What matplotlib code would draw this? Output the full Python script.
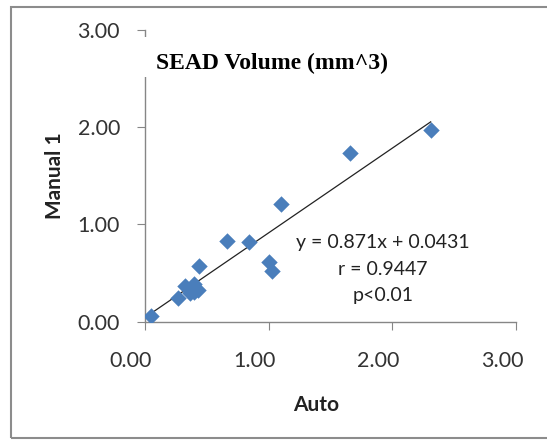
import matplotlib
matplotlib.use("Agg")
import matplotlib.pyplot as plt
import matplotlib.transforms as mtransforms
from matplotlib.patches import Rectangle
import numpy as np

# values
auto = [0.05, 0.27, 0.32, 0.36, 0.40, 0.40, 0.43, 0.44, 0.66, 0.84, 1.00, 1.03, 1.10, 1.66, 2.31]
manual1 = [0.06, 0.24, 0.37, 0.30, 0.39, 0.31, 0.33, 0.57, 0.83, 0.82, 0.61, 0.52, 1.21, 1.73, 1.97]
slope = 0.871
intercept = 0.0431
ticks = [0, 1, 2, 3]
tick_labels = ["0.00", "1.00", "2.00", "3.00"]
stats_text = "y = 0.871x + 0.0431\nr = 0.9447\np<0.01"

plt.rcParams['font.family'] = ['Lato', 'DejaVu Sans']

fig = plt.figure(figsize=(5.47, 4.40), dpi=100)
ax = fig.add_axes([145/547, 118.3/440, 371/547, 291.7/440])

ax.scatter(auto, manual1, marker="D", s=70, color="#4A7EBB", zorder=3, linewidths=0)
xs = np.array([0.0, max(auto)])
ax.plot(xs, slope*xs + intercept, color="#222222", lw=0.9, zorder=2)

ax.set_xlim(0, 3)
ax.set_ylim(0, 3)
ax.set_xticks(ticks)
ax.set_xticklabels(tick_labels)
ax.set_yticks(ticks)
ax.set_yticklabels(tick_labels)
ax.tick_params(axis="both", direction="out", length=6, color="#868686",
               labelsize=15.5, labelcolor="#333333")
ax.tick_params(axis="y", pad=12)
ax.tick_params(axis="x", pad=15)
for lab in ax.get_xticklabels():
    lab.set_transform(lab.get_transform() + mtransforms.ScaledTranslation(-14/100, 0, fig.dpi_scale_trans))
for s in ["top", "right"]:
    ax.spines[s].set_visible(False)
for s in ["left", "bottom"]:
    ax.spines[s].set_color("#868686")
    ax.spines[s].set_linewidth(1.0)

ax.set_xlabel("Auto", fontsize=15, fontweight="bold", color="#222222")
ax.set_ylabel("Manual 1", fontsize=15, fontweight="bold", color="#222222")
ax.xaxis.set_label_coords((316-145)/371, -(395-321.7)/291.7)
ax.yaxis.set_label_coords(-(145-65)/371, 0.5)

# title box hides the top of the value axis, as in the original
fig.patches.append(Rectangle((140/547, (440-77)/440), 260/547, 40/440,
                             transform=fig.transFigure, facecolor="white",
                             edgecolor="none", zorder=5))
fig.text(272/547, (440-63)/440, "SEAD Volume (mm^3)", ha="center", va="center",
         fontsize=17, fontweight="bold", family="Liberation Serif", zorder=6)

fig.text(383/547, (440-269)/440, stats_text, ha="center", va="center",
         fontsize=14, color="#222222", linespacing=1.65)

# outer chart frame
fig.patches.append(Rectangle((11/547, 2/440), 1.0, (438-7)/440,
                             transform=fig.transFigure, facecolor="none",
                             edgecolor="#8c8c8c", lw=1.5, zorder=0))

fig.savefig("out.png", dpi=100)
